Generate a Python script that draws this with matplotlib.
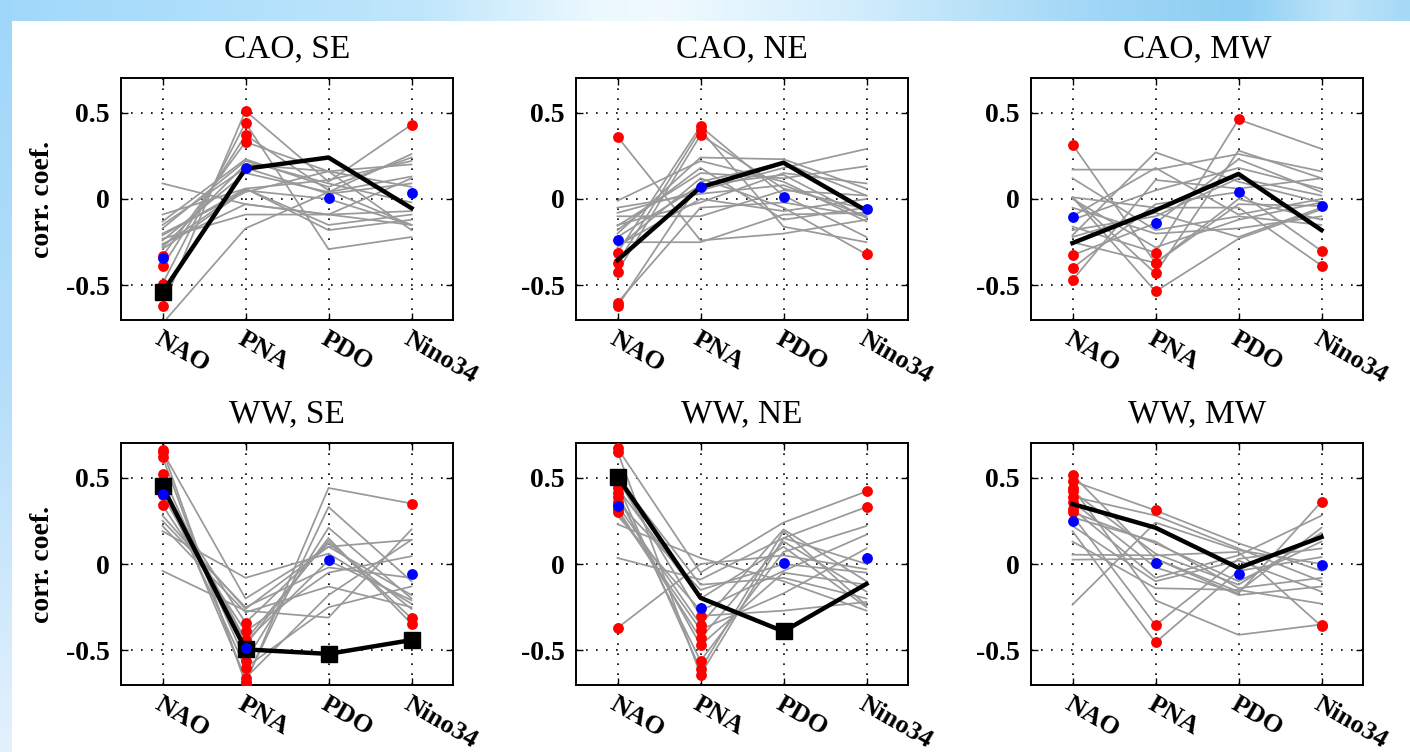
import numpy as np
import matplotlib
matplotlib.use('Agg')
import matplotlib.pyplot as plt
import matplotlib.transforms as mtransforms

# ---------------- data ----------------
indices = ['NAO', 'PNA', 'PDO', 'Nino34']
titles = ['CAO, SE', 'CAO, NE', 'CAO, MW', 'WW, SE', 'WW, NE', 'WW, MW']

# model correlations, one row per model: [NAO, PNA, PDO, Nino34]
models_cao_se = [
    [-0.62, 0.51, 0.10, 0.43],
    [-0.49, 0.44, -0.29, -0.22],
    [-0.39, 0.37, 0.05, -0.15],
    [-0.33, 0.33, 0.16, 0.07],
    [-0.72, -0.17, 0.04, 0.26],
    [0.09, -0.03, -0.09, 0.12],
    [-0.09, 0.06, 0.11, 0.22],
    [-0.17, 0.22, 0.09, -0.02],
    [-0.21, 0.06, -0.18, -0.12],
    [-0.24, 0.15, 0.04, 0.13],
    [-0.26, -0.03, -0.09, -0.07],
    [-0.28, 0.20, 0.16, -0.18],
    [-0.29, 0.05, 0.00, -0.15],
    [-0.13, 0.23, 0.07, 0.24],
    [-0.23, -0.09, -0.09, -0.15],
    [-0.27, 0.06, -0.15, -0.09],
    [-0.20, 0.04, 0.16, 0.20],
    [-0.15, 0.18, 0.03, 0.09],
]
models_cao_ne = [
    [0.36, -0.24, -0.20, -0.12],
    [-0.25, -0.25, -0.09, -0.08],
    [-0.01, 0.22, 0.10, -0.13],
    [-0.08, 0.05, 0.18, 0.29],
    [-0.155, 0.15, 0.12, 0.19],
    [-0.31, 0.42, 0.02, -0.22],
    [-0.37, 0.40, -0.16, -0.25],
    [-0.42, 0.37, 0.06, -0.06],
    [-0.62, 0.10, 0.21, 0.02],
    [-0.60, -0.05, -0.02, -0.10],
    [-0.20, 0.24, 0.23, 0.06],
    [-0.28, 0.12, -0.05, -0.32],
    [-0.15, -0.02, 0.15, 0.09],
    [-0.10, -0.10, 0.05, 0.02],
    [-0.22, 0.08, 0.14, -0.11],
    [-0.27, 0.00, -0.07, 0.00],
    [-0.05, 0.03, 0.08, -0.10],
    [-0.18, 0.18, -0.12, -0.05],
]
models_cao_mw = [
    [0.315, -0.37, -0.03, -0.04],
    [0.17, 0.17, 0.26, 0.16],
    [0.01, -0.535, -0.23, -0.06],
    [0.01, -0.43, 0.28, 0.12],
    [0.01, -0.05, -0.05, -0.385],
    [-0.21, 0.27, 0.10, -0.02],
    [-0.325, -0.14, 0.23, 0.04],
    [-0.40, -0.03, 0.04, -0.30],
    [-0.47, 0.11, 0.06, 0.12],
    [-0.16, -0.31, 0.46, 0.29],
    [-0.10, 0.18, -0.09, 0.00],
    [-0.22, -0.08, -0.22, -0.05],
    [-0.05, -0.20, -0.17, -0.10],
    [-0.25, -0.37, 0.00, -0.12],
    [-0.12, 0.05, 0.18, 0.06],
    [0.00, -0.28, -0.12, -0.02],
    [-0.18, -0.10, 0.12, 0.02],
    [0.12, -0.18, -0.10, -0.15],
]
models_ww_se = [
    [0.66, -0.69, 0.44, 0.35],
    [0.65, -0.20, 0.10, 0.14],
    [0.62, -0.68, 0.33, -0.10],
    [0.52, -0.56, 0.21, -0.20],
    [0.45, -0.44, 0.135, -0.315],
    [0.41, -0.34, 0.12, -0.26],
    [0.34, -0.39, -0.05, 0.045],
    [0.28, -0.26, 0.10, -0.18],
    [0.19, -0.08, 0.06, -0.23],
    [-0.04, -0.27, -0.31, 0.20],
    [0.47, -0.66, -0.18, 0.14],
    [0.43, -0.47, 0.15, -0.346],
    [0.25, -0.25, -0.02, -0.08],
    [0.44, -0.60, -0.25, -0.13],
    [0.22, -0.28, -0.13, -0.25],
    [0.40, -0.45, 0.02, -0.21],
]
models_ww_ne = [
    [0.67, -0.05, 0.24, 0.42],
    [0.65, -0.64, 0.15, 0.33],
    [0.46, -0.61, 0.19, -0.24],
    [0.41, -0.56, 0.07, 0.22],
    [0.39, -0.47, -0.05, -0.12],
    [0.32, -0.43, 0.13, -0.16],
    [0.30, -0.38, -0.17, 0.09],
    [0.23, 0.035, -0.10, -0.27],
    [0.035, -0.09, 0.15, 0.00],
    [-0.37, 0.00, 0.05, -0.03],
    [0.49, -0.30, -0.27, -0.22],
    [0.36, -0.15, 0.00, -0.05],
    [0.44, -0.20, 0.10, -0.25],
    [0.28, -0.27, -0.04, 0.17],
    [0.50, -0.12, -0.08, -0.20],
    [0.34, -0.35, 0.20, -0.10],
]
models_ww_mw = [
    [0.515, 0.03, -0.16, 0.21],
    [0.48, 0.31, 0.12, -0.04],
    [0.44, -0.21, -0.41, -0.35],
    [0.39, 0.28, 0.09, -0.10],
    [0.36, -0.02, -0.17, 0.36],
    [0.32, -0.08, 0.05, 0.28],
    [0.30, 0.12, -0.10, 0.13],
    [0.28, -0.354, 0.03, 0.09],
    [0.19, -0.454, -0.04, 0.04],
    [0.13, -0.14, -0.15, -0.23],
    [0.054, 0.05, 0.07, -0.36],
    [0.025, 0.03, -0.18, -0.13],
    [-0.235, 0.24, 0.08, 0.00],
    [0.27, 0.13, -0.14, -0.08],
    [0.22, -0.10, 0.02, -0.16],
    [0.42, 0.06, -0.12, 0.18],
]

# model values at or above this |r| are significant (red), except listed (row, column)
model_sig_level = 0.30
not_sig_cao_se = [(4, 0)]
not_sig_cao_ne = []
not_sig_cao_mw = []
not_sig_ww_se = [(0, 2), (2, 2), (9, 2)]
not_sig_ww_ne = []
not_sig_ww_mw = [(2, 2)]

# observed correlations and their significance
obs_cao_se = [-0.54, 0.175, 0.24, -0.053]
obs_cao_ne = [-0.354, 0.068, 0.21, -0.068]
obs_cao_mw = [-0.255, -0.065, 0.145, -0.18]
obs_ww_se = [0.45, -0.494, -0.52, -0.44]
obs_ww_ne = [0.505, -0.196, -0.39, -0.115]
obs_ww_mw = [0.347, 0.21, -0.023, 0.156]

obs_sig_cao_se = [True, False, False, False]
obs_sig_cao_ne = [False, False, False, False]
obs_sig_cao_mw = [False, False, False, False]
obs_sig_ww_se = [True, True, True, True]
obs_sig_ww_ne = [True, False, True, False]
obs_sig_ww_mw = [False, False, False, False]

# multi-model mean
mean_cao_se = [-0.34, 0.18, 0.008, 0.035]
mean_cao_ne = [-0.237, 0.068, 0.012, -0.055]
mean_cao_mw = [-0.107, -0.14, 0.043, -0.04]
mean_ww_se = [0.405, -0.485, 0.023, -0.06]
mean_ww_ne = [0.333, -0.254, 0.004, 0.035]
mean_ww_mw = [0.246, 0.006, -0.058, -0.004]

panels = [
    (models_cao_se, not_sig_cao_se, obs_cao_se, obs_sig_cao_se, mean_cao_se),
    (models_cao_ne, not_sig_cao_ne, obs_cao_ne, obs_sig_cao_ne, mean_cao_ne),
    (models_cao_mw, not_sig_cao_mw, obs_cao_mw, obs_sig_cao_mw, mean_cao_mw),
    (models_ww_se, not_sig_ww_se, obs_ww_se, obs_sig_ww_se, mean_ww_se),
    (models_ww_ne, not_sig_ww_ne, obs_ww_ne, obs_sig_ww_ne, mean_ww_ne),
    (models_ww_mw, not_sig_ww_mw, obs_ww_mw, obs_sig_ww_mw, mean_ww_mw),
]

# ---------------- figure ----------------
W, H = 1410, 752
fig = plt.figure(figsize=(W / 100, H / 100), dpi=100)

# light-blue window frame background, drawn in a full-figure axes behind all
def interp_colors(stops, n):
    xs = np.array([s[0] for s in stops])
    cs = np.array([s[1] for s in stops], dtype=float) / 255.0
    t = np.linspace(0, 1, n)
    return np.stack([np.interp(t, xs, cs[:, k]) for k in range(3)], axis=1)

bg = np.ones((H, W, 3))
top_cols = interp_colors([(0.0, (160, 216, 250)), (0.12, (172, 222, 251)),
                          (0.30, (192, 230, 251)), (0.42, (235, 248, 254)),
                          (0.47, (240, 250, 254)), (0.60, (212, 238, 252)),
                          (0.78, (160, 214, 246)), (0.88, (142, 207, 242)),
                          (0.95, (190, 228, 250)), (1.0, (165, 217, 246))], W)
bg[:21, :, :] = top_cols[None, :, :]
left_cols = interp_colors([(0.0, (158, 215, 250)), (0.5, (180, 222, 250)),
                           (1.0, (228, 241, 253))], H)
bg[:, :12, :] = left_cols[:, None, :]
bgax = fig.add_axes([0, 0, 1, 1], zorder=-10)
bgax.imshow(bg, aspect='auto', interpolation='nearest', extent=(0, W, H, 0))
bgax.set_xlim(0, W)
bgax.set_ylim(H, 0)
bgax.axis('off')

serif = ['Liberation Serif', 'DejaVu Serif']
x = np.arange(1, 5)

lefts = [121, 576, 1031]
tops = [78, 443]
aw, ah = 332, 242
label_shift = mtransforms.ScaledTranslation(5 / 100, 0, fig.dpi_scale_trans)

for i, (models, not_sig, obs, obs_sig, mean) in enumerate(panels):
    r, c = divmod(i, 3)
    ax = fig.add_axes([lefts[c] / W, 1 - (tops[r] + ah) / H, aw / W, ah / H])
    ax.set_facecolor('white')
    models = np.array(models)
    red = np.abs(models) >= model_sig_level
    for (mi, ci) in not_sig:
        red[mi, ci] = False
    for row in models:
        ax.plot(x, row, color='#999999', lw=1.25, zorder=2)
    for row, m in zip(models, red):
        ax.plot(x[m], row[m], 'o', color='#ff0000', ms=7.8, mec='none', zorder=3)
    obs = np.array(obs)
    ax.plot(x, obs, color='black', lw=3.2, zorder=4)
    sig = np.array(obs_sig)
    ax.plot(x[sig], obs[sig], 's', color='black', ms=11.5, zorder=5)
    ax.plot(x, mean, 'o', color='#0000ff', ms=7.8, mec='none', zorder=6)

    ax.set_xlim(0.5, 4.5)
    ax.set_ylim(-0.7, 0.7)
    ax.set_xticks(x)
    ax.set_yticks([-0.5, 0, 0.5])
    ax.set_yticklabels(['-0.5', '0', '0.5'], fontfamily=serif, fontweight='bold', fontsize=20)
    ax.set_xticklabels(indices, fontfamily=serif, fontweight='bold', fontsize=19,
                       rotation=-30, ha='left', rotation_mode='anchor')
    for lab in ax.get_xticklabels():
        lab.set_transform(lab.get_transform() + label_shift)
    ax.tick_params(direction='in', length=5, width=1, top=True, right=True,
                   pad=8)
    ax.tick_params(axis='x', pad=5)
    ax.grid(True, color='black', linestyle=(0, (1, 5)), lw=1.2)
    ax.set_axisbelow(True)
    for s in ax.spines.values():
        s.set_linewidth(1.4)
    ax.set_title(titles[i], fontfamily=serif, fontsize=24, pad=15)
    if c == 0:
        ax.set_ylabel('corr. coef.', fontfamily=serif, fontweight='bold',
                      fontsize=20, labelpad=8)

fig.savefig('out.png', dpi=100)
